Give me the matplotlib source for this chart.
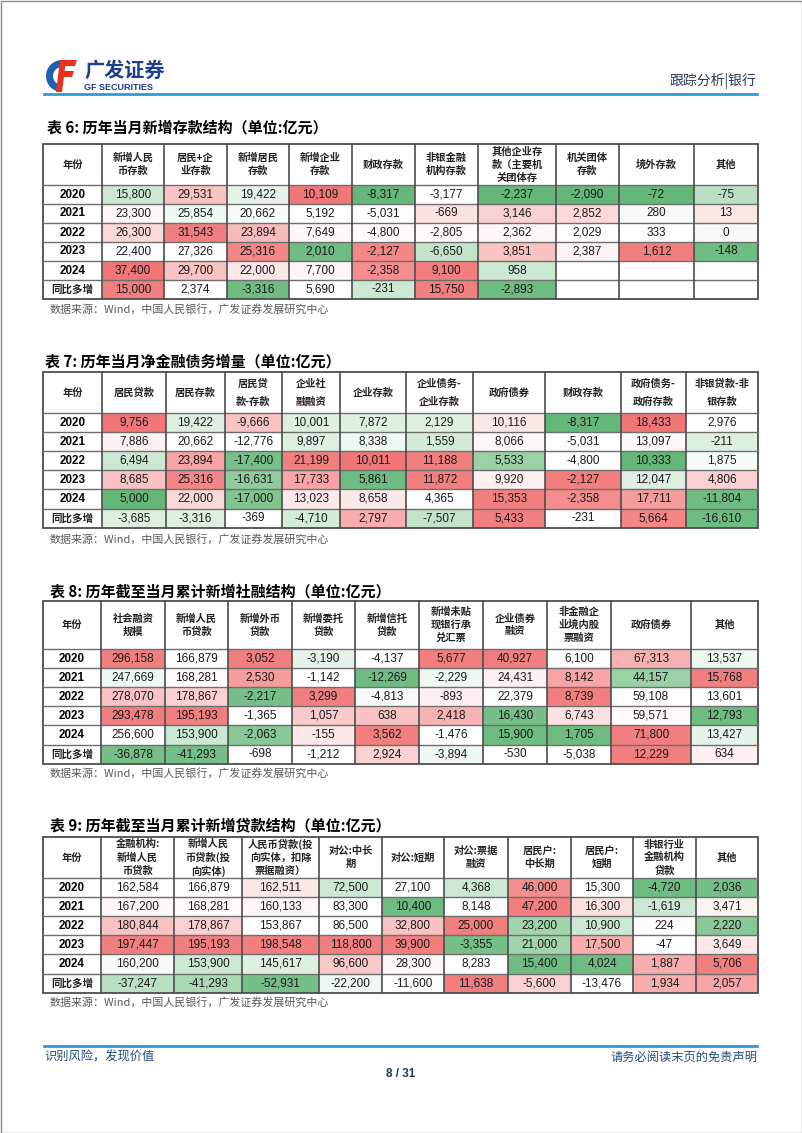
import matplotlib
matplotlib.use('Agg')
import matplotlib.pyplot as plt
from matplotlib.patches import Rectangle, Wedge, Polygon
from matplotlib.colors import LinearSegmentedColormap

CJK = ['Noto Sans CJK SC', 'DejaVu Sans']
NUM = ['Liberation Sans', 'Noto Sans CJK SC']

years = ['2020', '2021', '2022', '2023', '2024', '同比多增']

# 表6 历年当月新增存款结构
t6_title = '表 6: 历年当月新增存款结构（单位:亿元）'
t6_head = ['年份', '新增人民\n币存款', '居民+企\n业存款', '新增居民\n存款', '新增企业\n存款', '财政存款',
           '非银金融\n机构存款', '其他企业存\n款（主要机\n关团体存', '机关团体\n存款', '境外存款', '其他']
t6_vals = [
    [15800, 29531, 19422, 10109, -8317, -3177, -2237, -2090, -72, -75],
    [23300, 25854, 20662, 5192, -5031, -669, 3146, 2852, 280, 13],
    [26300, 31543, 23894, 7649, -4800, -2805, 2362, 2029, 333, 0],
    [22400, 27326, 25316, 2010, -2127, -6650, 3851, 2387, 1612, -148],
    [37400, 29700, 22000, 7700, -2358, 9100, 958, None, None, None],
    [15000, 2374, -3316, 5690, -231, 15750, -2893, None, None, None],
]
# 条件格式深浅（-1 绿 … 0 白 … 1 红）
t6_shade = [
    [-0.3, 0.4, -0.15, 0.9, -0.9, 0, -0.9, -0.9, -0.9, -0.4],
    [0.05, -0.1, -0.04, 0, 0, 0.2, 0.3, 0.25, -0.05, 0.15],
    [0.25, 0.85, 0.45, 0.04, 0.03, 0.03, 0.05, 0, 0, -0.05],
    [0, 0, 0.8, -0.85, 0.8, -0.35, 0.4, 0.08, 0.85, -0.85],
    [0.9, 0.4, 0.15, 0.06, 0.75, 0.85, -0.3, 0, 0, 0],
    [0.85, 0, -0.85, 0, -0.3, 0.85, -0.85, 0, 0, 0],
]

# 表7 历年当月净金融债务增量
t7_title = '表 7: 历年当月净金融债务增量（单位:亿元）'
t7_head = ['年份', '居民贷款', '居民存款', '居民贷\n款-存款', '企业社\n融融资', '企业存款',
           '企业债务-\n企业存款', '政府债券', '财政存款', '政府债务-\n政府存款', '非银贷款-非\n银存款']
t7_vals = [
    [9756, 19422, -9666, 10001, 7872, 2129, 10116, -8317, 18433, 2976],
    [7886, 20662, -12776, 9897, 8338, 1559, 8066, -5031, 13097, -211],
    [6494, 23894, -17400, 21199, 10011, 11188, 5533, -4800, 10333, 1875],
    [8685, 25316, -16631, 17733, 5861, 11872, 9920, -2127, 12047, 4806],
    [5000, 22000, -17000, 13023, 8658, 4365, 15353, -2358, 17711, -11804],
    [-3685, -3316, -369, -4710, 2797, -7507, 5433, -231, 5664, -16610],
]
t7_shade = [
    [0.9, -0.2, 0.4, -0.2, -0.2, -0.2, 0.15, -0.9, 0.9, 0],
    [0.1, 0, 0, -0.2, -0.1, -0.25, 0.05, 0, 0.05, -0.2],
    [-0.3, 0.6, -0.8, 0.85, 0.9, 0.85, -0.6, 0, -0.9, -0.05],
    [0.4, 0.8, -0.65, 0.6, -0.85, 0.85, 0.1, 0.85, -0.2, 0.3],
    [-0.9, 0.25, -0.75, 0.15, 0.15, 0, 0.85, 0.75, 0.65, -0.85],
    [-0.2, -0.2, 0, -0.25, 0.55, -0.35, 0.85, 0, 0.8, -0.85],
]

# 表8 历年截至当月累计新增社融结构
t8_title = '表 8: 历年截至当月累计新增社融结构（单位:亿元）'
t8_head = ['年份', '社会融资\n规模', '新增人民\n币贷款', '新增外币\n贷款', '新增委托\n贷款', '新增信托\n贷款',
           '新增未贴\n现银行承\n兑汇票', '企业债券\n融资', '非金融企\n业境内股\n票融资', '政府债券', '其他']
t8_vals = [
    [296158, 166879, 3052, -3190, -4137, 5677, 40927, 6100, 67313, 13537],
    [247669, 168281, 2530, -1142, -12269, -2229, 24431, 8142, 44157, 15768],
    [278070, 178867, -2217, 3299, -4813, -893, 22379, 8739, 59108, 13601],
    [293478, 195193, -1365, 1057, 638, 2418, 16430, 6743, 59571, 12793],
    [256600, 153900, -2063, -155, 3562, -1476, 15900, 1705, 71800, 13427],
    [-36878, -41293, -698, -1212, 2924, -3894, -530, -5038, 12229, 634],
]
t8_shade = [
    [0.85, 0, 0.85, -0.15, 0, 0.85, 0.85, 0, 0.5, -0.1],
    [-0.1, 0.03, 0.65, 0, -0.85, -0.1, 0.1, 0.6, -0.6, 0.85],
    [0.4, 0.3, -0.8, 0.85, -0.05, 0.1, 0, 0.85, 0, 0],
    [0.85, 0.85, 0, 0.35, 0.4, 0.5, -0.8, 0.2, 0.03, -0.85],
    [0, -0.3, -0.7, 0.15, 0.85, 0, -0.85, -0.85, 0.85, -0.15],
    [-0.8, -0.8, 0, 0, 0.3, -0.1, 0, 0, 0.85, 0.1],
]

# 表9 历年截至当月累计新增贷款结构
t9_title = '表 9: 历年截至当月累计新增贷款结构（单位:亿元）'
t9_head = ['年份', '金融机构:\n新增人民\n币贷款', '新增人民\n币贷款(投\n向实体)', '人民币贷款(投\n向实体，扣除\n票据融资）',
           '对公:中长\n期', '对公:短期', '对公:票据\n融资', '居民户:\n中长期', '居民户:\n短期',
           '非银行业\n金融机构\n贷款', '其他']
t9_vals = [
    [162584, 166879, 162511, 72500, 27100, 4368, 46000, 15300, -4720, 2036],
    [167200, 168281, 160133, 83300, 10400, 8148, 47200, 16300, -1619, 3471],
    [180844, 178867, 153867, 86500, 32800, 25000, 23200, 10900, 224, 2220],
    [197447, 195193, 198548, 118800, 39900, -3355, 21000, 17500, -47, 3649],
    [160200, 153900, 145617, 96600, 28300, 8283, 15400, 4024, 1887, 5706],
    [-37247, -41293, -52931, -22200, -11600, 11638, -5600, -13476, 1934, 2057],
]
t9_shade = [
    [0, 0, 0.15, -0.3, 0, -0.3, 0.75, 0, -0.85, -0.8],
    [0.05, 0.03, 0.05, 0, -0.85, 0, 0.85, 0.2, -0.3, 0.08],
    [0.4, 0.3, 0, 0, 0.4, 0.85, -0.55, -0.3, 0.03, -0.7],
    [0.85, 0.85, 0.85, 0.85, 0.85, -0.8, -0.55, 0.55, 0, 0.15],
    [-0.05, -0.3, -0.2, 0.35, 0.05, 0, -0.85, -0.85, 0.55, 0.85],
    [-0.4, -0.5, -0.8, -0.1, 0, 0.85, 0.3, 0, 0.55, 0.6],
]

source = '数据来源：Wind，中国人民银行，广发证券发展研究中心'

cmap = LinearSegmentedColormap.from_list('gwr', ['#55B06B', '#FFFFFF', '#F0686A'])

fig = plt.figure(figsize=(8.02, 11.33), dpi=100)
ax = fig.add_axes([0, 0, 1, 1])
ax.set_xlim(0, 802)
ax.set_ylim(1133, 0)
ax.axis('off')

# 页框
ax.add_patch(Rectangle((0.5, 0.5), 801, 1132, fill=False, ec='#8c8c8c', lw=1))

# 页眉 logo
ax.add_patch(Wedge((62, 76), 16, 95, 265, width=7, fc='#1f5fb0', ec='none'))
ax.add_patch(Polygon([(60, 60), (77, 60), (75, 66), (62, 66)], fc='#e8321e', ec='none'))
ax.add_patch(Polygon([(60, 71), (74, 71), (72, 77), (60, 77)], fc='#e8321e', ec='none'))
ax.add_patch(Polygon([(60, 60), (66, 60), (62, 92), (56, 92)], fc='#e8321e', ec='none'))
ax.text(84, 70, '广发证券', family=CJK, fontsize=14.5, fontweight='bold', color='#1d3d8f', va='center')
ax.text(84, 87, 'GF SECURITIES', family=NUM, fontsize=6.5, fontweight='bold', color='#1d3d8f', va='center')
ax.text(756, 81, '跟踪分析|银行', family=CJK, fontsize=10, color='#2b3a55', ha='right', va='center')
ax.plot([44, 757], [93.5, 93.5], color='#2e9bd6', lw=2)


def draw_table(title, ty, head, vals, shade, edges, top, head_h, row_h, sy, tx=47, lsp=1.35):
    ax.text(tx, ty, title, family=CJK, fontsize=10.8, fontweight='bold', va='center')
    ncol = len(edges) - 1
    # 表头
    for j in range(ncol):
        xc = (edges[j] + edges[j + 1]) / 2
        ax.text(xc, top + head_h / 2, head[j], family=CJK, fontsize=7.4, fontweight='bold',
                ha='center', va='center', linespacing=lsp, color='#222222')
    # 数据行
    for i, lab in enumerate(years):
        y0 = top + head_h + i * row_h
        yc = y0 + row_h / 2
        if lab.isdigit():
            ax.text((edges[0] + edges[1]) / 2, yc, lab, family=NUM, fontsize=8.4, fontweight='bold',
                    ha='center', va='center')
        else:
            ax.text((edges[0] + edges[1]) / 2, yc, lab, family=CJK, fontsize=7.6, fontweight='bold',
                    ha='center', va='center', color='#222222')
        for j, v in enumerate(vals[i]):
            x0, x1 = edges[j + 1], edges[j + 2]
            ax.add_patch(Rectangle((x0, y0), x1 - x0, row_h, fc=cmap((shade[i][j] + 1) / 2), ec='none'))
            if v is not None:
                ax.text((x0 + x1) / 2, yc, f'{v:,}', family=NUM, fontsize=8.5, ha='center', va='center',
                        color='#1a1a1a')
    bottom = top + head_h + len(years) * row_h
    # 网格线
    for k in range(len(years)):
        y = top + head_h + k * row_h
        ax.plot([edges[0], edges[-1]], [y, y], color='#6e6e6e', lw=1.0)
    for x in edges[1:-1]:
        ax.plot([x, x], [top, bottom], color='#4d4d4d', lw=1.2)
    ax.add_patch(Rectangle((edges[0], top), edges[-1] - edges[0], bottom - top, fill=False,
                           ec='#4d4d4d', lw=1.3))
    ax.text(50, sy, source, family=CJK, fontsize=7.9, color='#595959', va='center')


draw_table(t6_title, 128, t6_head, t6_vals, t6_shade,
           [43, 102, 164, 227, 289, 352, 415, 478, 556, 619, 694, 758], 144, 41, 19, 309)
draw_table(t7_title, 362, t7_head, t7_vals, t7_shade,
           [43, 102, 166, 225, 282, 340, 406, 473, 545, 621, 686, 758], 372, 41, 19.1, 539, tx=45, lsp=2.0)
draw_table(t8_title, 591, t8_head, t8_vals, t8_shade,
           [43, 101, 165, 228, 292, 355, 419, 483, 547, 611, 691, 758], 601, 48, 19.1, 773, tx=50)
draw_table(t9_title, 825, t9_head, t9_vals, t9_shade,
           [43, 101, 174, 242, 319, 382, 444, 508, 571, 633, 696, 758], 837, 41, 19.1, 1002, tx=50)

# 页脚
ax.plot([44, 757], [1045.5, 1045.5], color='#2e9bd6', lw=2)
ax.text(44, 1057, '识别风险，发现价值', family=CJK, fontsize=8.8, color='#1f4e79', va='center')
ax.text(757, 1057, '请务必阅读末页的免责声明', family=CJK, fontsize=8.8, color='#1f4e79', ha='right', va='center')
ax.text(401, 1074, '8 / 31', family=NUM, fontsize=8.5, fontweight='bold', color='#1f3864', ha='center', va='center')

fig.savefig('out.png', dpi=100)
